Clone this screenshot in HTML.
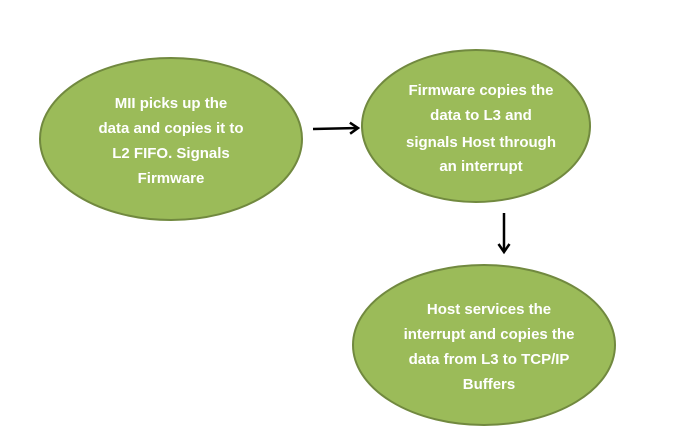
<!DOCTYPE html>
<html><head><meta charset="utf-8"><style>
html,body{margin:0;padding:0;background:#fff;}
svg{display:block;}
text{font-family:"Liberation Sans",sans-serif;font-weight:bold;font-size:15px;fill:#fff;text-anchor:middle;}
</style></head><body>
<svg width="688" height="447" viewBox="0 0 688 447">
<defs>
<marker id="ah" markerWidth="14" markerHeight="14" refX="10" refY="7" orient="auto" markerUnits="userSpaceOnUse">
<path d="M2,1.5 L10,7 L2,12.5" fill="none" stroke="#000" stroke-width="2.5"/>
</marker>
</defs>
<ellipse cx="171" cy="139" rx="131" ry="81" fill="#9bbb59" stroke="#71893f" stroke-width="2"/>
<ellipse cx="476" cy="126" rx="114" ry="76" fill="#9bbb59" stroke="#71893f" stroke-width="2"/>
<ellipse cx="484" cy="345" rx="131" ry="80" fill="#9bbb59" stroke="#71893f" stroke-width="2"/>
<line x1="313" y1="129" x2="358" y2="128" stroke="#000" stroke-width="2.5" marker-end="url(#ah)"/>
<line x1="504" y1="213" x2="504" y2="252" stroke="#000" stroke-width="2.5" marker-end="url(#ah)"/>
<text x="171" y="108">MII picks up the</text>
<text x="171" y="133">data and copies it to</text>
<text x="171" y="158">L2 FIFO. Signals</text>
<text x="171" y="183">Firmware</text>
<text x="481" y="95">Firmware  copies the</text>
<text x="481" y="120">data to L3 and</text>
<text x="481" y="147">signals Host through</text>
<text x="481" y="171">an interrupt</text>
<text x="489" y="314">Host services the</text>
<text x="489" y="339">interrupt and copies the</text>
<text x="489" y="364">data from L3 to TCP/IP</text>
<text x="489" y="389">Buffers</text>
</svg>
</body></html>
